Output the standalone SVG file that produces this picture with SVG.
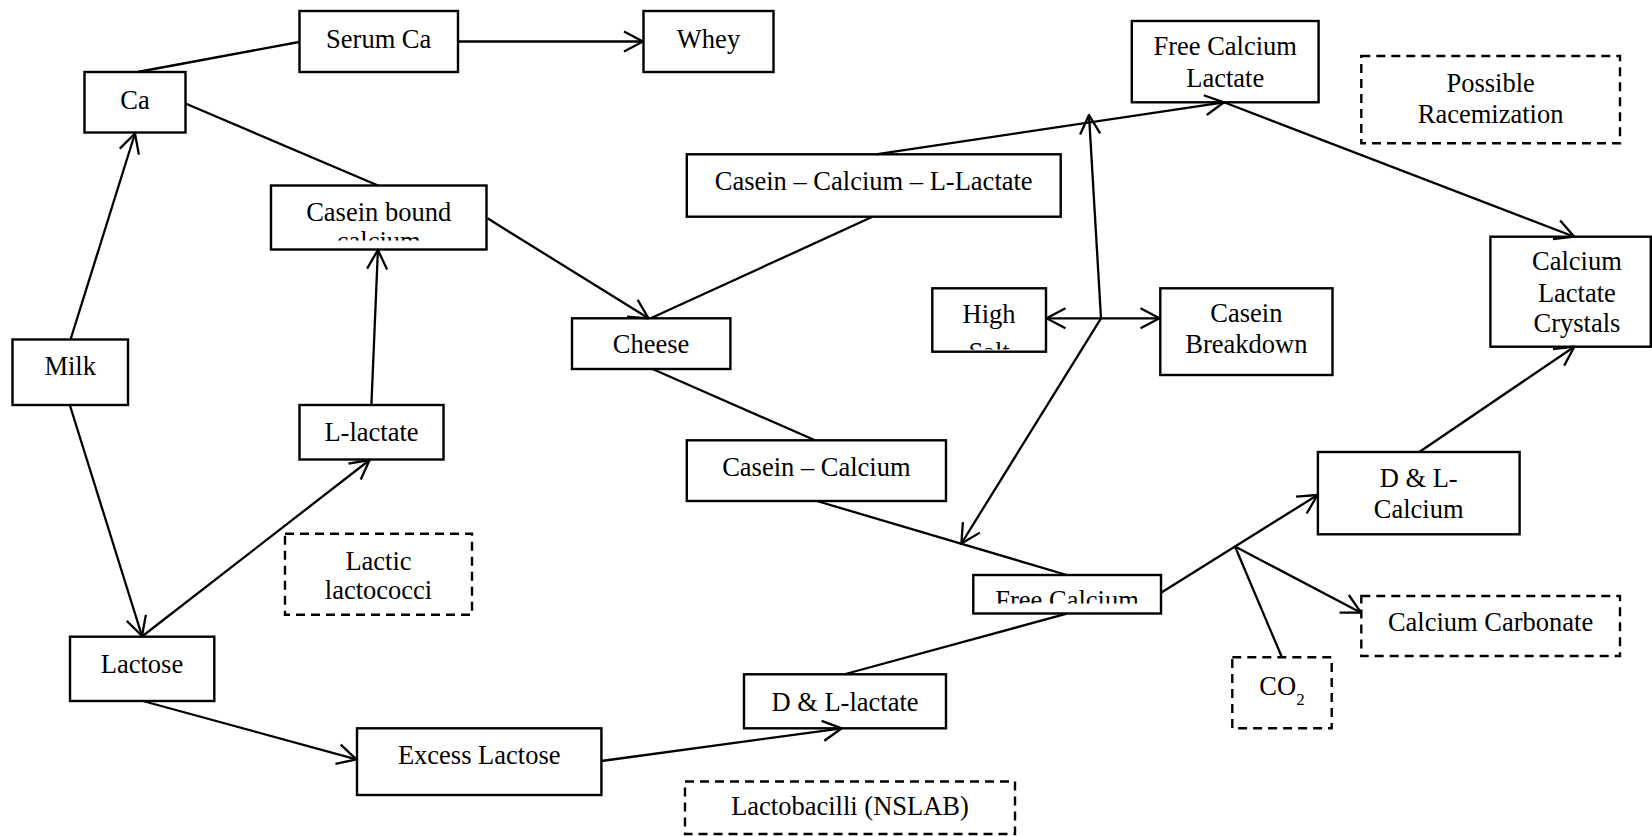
<svg xmlns="http://www.w3.org/2000/svg" width="1652" height="836" viewBox="0 0 1652 836">
<style>
.n rect{fill:#fff;stroke:#000;stroke-width:2.4}
.d rect{fill:#fff;stroke:#000;stroke-width:2.4;stroke-dasharray:9 6}
text{font-family:"Liberation Serif","Times New Roman",serif;font-size:26.5px;text-anchor:middle;fill:#000}
.sub{font-size:17px}
#connectors line{stroke:#000;stroke-width:2.3;fill:none}
.a{marker-end:url(#ah)}
</style>
<defs>
<marker id="ah" viewBox="-24 -14 28 28" refX="0" refY="0" markerWidth="28" markerHeight="28" markerUnits="userSpaceOnUse" orient="auto">
<path d="M-19,-10 L0,0 L-19,10" fill="none" stroke="#000" stroke-width="2.3" stroke-linejoin="round"/>
</marker>
<clipPath id="cpCB"><rect x="272" y="186" width="214" height="54.5"/></clipPath>
<clipPath id="cpHS"><rect x="933" y="289" width="113" height="60.5"/></clipPath>
<clipPath id="cpFC"><rect x="974" y="576" width="187" height="27.5"/></clipPath>
</defs>

<g id="serumca" class="n"><rect x="299.5" y="11" width="158.5" height="61"/><text x="378.7" y="47.5">Serum Ca</text></g>
<g id="whey" class="n"><rect x="643.5" y="11" width="130" height="61"/><text x="708.5" y="47.5">Whey</text></g>
<g id="ca" class="n"><rect x="84.5" y="72" width="101" height="60.5"/><text x="135" y="108.5">Ca</text></g>
<g id="caseinbound" class="n"><rect x="271" y="185.5" width="215.5" height="64"/><g clip-path="url(#cpCB)"><text x="378.7" y="220.7">Casein bound</text><text x="378.7" y="249.5">calcium</text></g></g>
<g id="milk" class="n"><rect x="12.5" y="339.5" width="115.5" height="65.5"/><text x="70.2" y="375">Milk</text></g>
<g id="llactate" class="n"><rect x="299.5" y="405" width="144" height="54.5"/><text x="371.5" y="441">L-lactate</text></g>
<g id="lacticlactococci" class="d"><rect x="285" y="533.7" width="187" height="81"/><text x="378.5" y="570">Lactic</text><text x="378.5" y="599.3">lactococci</text></g>
<g id="lactose" class="n"><rect x="70" y="636.7" width="144.3" height="64.3"/><text x="142" y="672.7">Lactose</text></g>
<g id="excesslactose" class="n"><rect x="357" y="728.3" width="244.4" height="66.7"/><text x="479.2" y="764.3">Excess Lactose</text></g>
<g id="cheese" class="n"><rect x="572" y="318.3" width="158.4" height="50.7"/><text x="651" y="353.3">Cheese</text></g>
<g id="caseincalciumllactate" class="n"><rect x="686.8" y="154.3" width="373.9" height="62.4"/><text x="873.7" y="190">Casein – Calcium – L-Lactate</text></g>
<g id="caseincalcium" class="n"><rect x="686.8" y="440.3" width="259.2" height="60.7"/><text x="816.4" y="476">Casein – Calcium</text></g>
<g id="freecalcium" class="n"><rect x="973.3" y="575" width="187.7" height="38.5"/><g clip-path="url(#cpFC)"><text x="1067" y="609.2">Free Calcium</text></g></g>
<g id="dllactate" class="n"><rect x="744" y="674.3" width="202" height="54"/><text x="845" y="711">D &amp; L-lactate</text></g>
<g id="lactobacilli" class="d"><rect x="685" y="781.5" width="330" height="52.5"/><text x="850" y="815">Lactobacilli (NSLAB)</text></g>
<g id="freecalciumlactate" class="n"><rect x="1131.8" y="21" width="186.8" height="81.3"/><text x="1225.2" y="55">Free Calcium</text><text x="1225.2" y="86.7">Lactate</text></g>
<g id="racemization" class="d"><rect x="1361.3" y="56" width="258.7" height="87.3"/><text x="1490.6" y="91.7">Possible</text><text x="1490.6" y="123.3">Racemization</text></g>
<g id="highsalt" class="n"><rect x="932.3" y="288.3" width="113.7" height="63.4"/><g clip-path="url(#cpHS)"><text x="989" y="323.3">High</text><text x="989" y="361">Salt</text></g></g>
<g id="caseinbreakdown" class="n"><rect x="1160.3" y="288.3" width="172.2" height="86.7"/><text x="1246.4" y="321.7">Casein</text><text x="1246.4" y="352.7">Breakdown</text></g>
<g id="calciumlactatecrystals" class="n"><rect x="1490.4" y="236.7" width="160.4" height="110"/><text x="1576.9" y="270">Calcium</text><text x="1576.9" y="301.7">Lactate</text><text x="1576.9" y="331.7">Crystals</text></g>
<g id="dlcalcium" class="n"><rect x="1317.9" y="452" width="201.7" height="82.3"/><text x="1418.7" y="487">D &amp; L-</text><text x="1418.7" y="517.7">Calcium</text></g>
<g id="calciumcarbonate" class="d"><rect x="1361.3" y="596" width="258.7" height="60"/><text x="1490.6" y="631">Calcium Carbonate</text></g>
<g id="co2" class="d"><rect x="1232.3" y="657.3" width="99.4" height="71"/><text x="1282" y="695"><tspan>CO</tspan><tspan class="sub" dy="10">2</tspan></text></g>

<g id="connectors">
<line x1="299" y1="42" x2="137.5" y2="72"/>
<line class="a" x1="458" y1="41.5" x2="643" y2="41.5"/>
<line x1="185.5" y1="103.5" x2="378" y2="185.5"/>
<line class="a" x1="70.7" y1="339" x2="135" y2="133.5"/>
<line class="a" x1="69.8" y1="405" x2="142" y2="636"/>
<line class="a" x1="142" y1="636.5" x2="369.6" y2="460"/>
<line class="a" x1="371.4" y1="405" x2="377.9" y2="250"/>
<line class="a" x1="487.5" y1="218.3" x2="648.5" y2="318.3"/>
<line x1="650.7" y1="318.3" x2="872" y2="217"/>
<line x1="652.5" y1="369" x2="815" y2="440.3"/>
<line x1="816.8" y1="501" x2="1066.8" y2="575"/>
<line x1="845.4" y1="674" x2="1066.8" y2="613.7"/>
<line class="a" x1="142.9" y1="701" x2="356.4" y2="759.3"/>
<line class="a" x1="601.4" y1="761" x2="841.8" y2="728.3"/>
<line class="a" x1="875.7" y1="154.3" x2="1224" y2="102.3"/>
<line class="a" x1="1224" y1="102.3" x2="1574.3" y2="236.7"/>
<line class="a" x1="1101" y1="318.3" x2="1046.5" y2="318.3"/>
<line class="a" x1="1101" y1="318.3" x2="1159.5" y2="318.3"/>
<line class="a" x1="1101" y1="318.3" x2="1089" y2="115"/>
<line class="a" x1="1101" y1="318.3" x2="961.4" y2="543.5"/>
<line class="a" x1="1161" y1="592.7" x2="1317.5" y2="495"/>
<line class="a" x1="1235" y1="546.5" x2="1361" y2="612.7"/>
<line x1="1281.8" y1="657" x2="1235" y2="546.5"/>
<line class="a" x1="1419.3" y1="452" x2="1574.3" y2="346.7"/>
</g>
</svg>
